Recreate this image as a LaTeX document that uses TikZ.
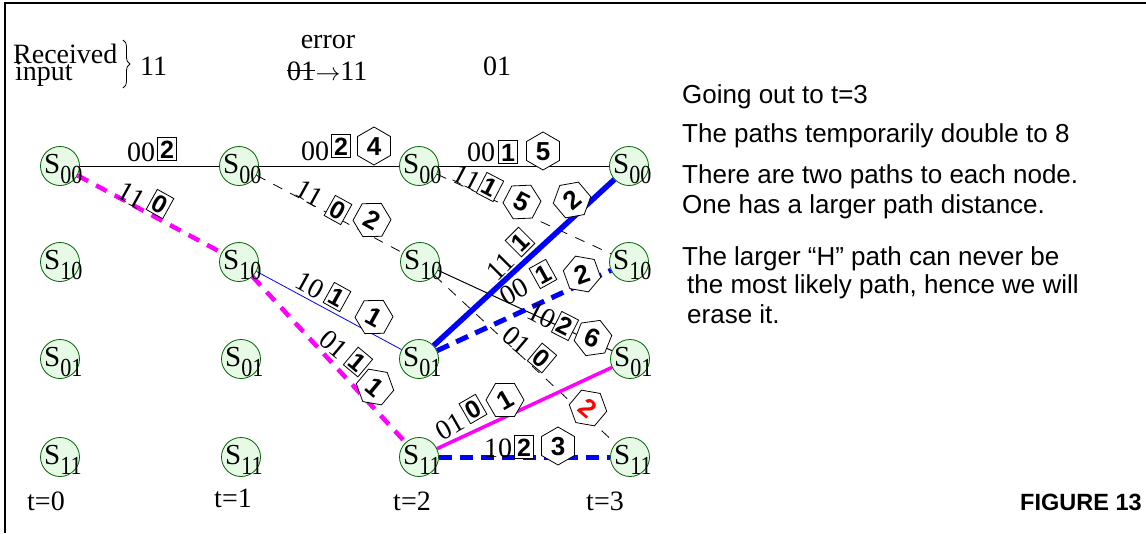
\documentclass[tikz,border=0pt]{standalone}
\usepackage{fontspec}
\setmainfont{Liberation Serif}
\newfontfamily\arial{Liberation Sans}
\newfontfamily\subfont[FakeStretch=0.85]{Liberation Serif}
\usetikzlibrary{shapes.geometric,decorations.pathreplacing}
\definecolor{stfill}{RGB}{230,250,230}
\definecolor{stdraw}{RGB}{0,100,0}
\definecolor{mag}{RGB}{255,0,255}
\definecolor{blu}{RGB}{0,0,255}
\definecolor{rd}{RGB}{255,0,0}
\tikzset{
 st/.style={circle, draw=stdraw, fill=stfill, line width=0.8pt, minimum size=39pt, inner sep=0pt},
 slab/.style={anchor=base west, inner sep=0pt},
 bits/.style={inner sep=0pt, font=\fontsize{28}{28}\selectfont, text height=19pt, text depth=0pt},
 boxd/.style={draw, fill=white, line width=0.8pt, inner sep=2.5pt, font=\arial\bfseries\fontsize{25}{25}\selectfont, text height=18pt, text depth=0pt},
 hexd/.style={regular polygon, regular polygon sides=6, shape border rotate=30, draw, fill=white, line width=0.8pt, minimum size=38pt, inner sep=0pt, font=\arial\bfseries\fontsize{26}{26}\selectfont, text height=18.5pt, text depth=0pt},
 thinline/.style={line width=1pt},
 thindash/.style={line width=0.8pt, dash pattern=on 10pt off 9pt},
 magdash/.style={mag, line width=4.5pt, dash pattern=on 12pt off 9pt},
 magsolid/.style={mag, line width=3.5pt},
 bluethick/.style={blu, line width=5.5pt},
 bluedash/.style={blu, line width=5pt, dash pattern=on 13pt off 8pt},
 bluethin/.style={blu, line width=0.8pt},
 txt/.style={anchor=base west, inner sep=0pt, font=\fontsize{28}{28}\selectfont},
 ctxt/.style={anchor=base, inner sep=0pt, font=\fontsize{28}{28}\selectfont},
 rtxt/.style={anchor=base west, inner sep=0pt, font=\arial\fontsize{26}{26}\selectfont},
}
\newcommand\statenode[4]{%
 \node[st] (#1) at (#2,#3) {};
}
\newcommand\statelabel[2]{%
 \node[slab] (#1t) at ([xshift=-16pt,yshift=-7pt]#1.center) {{\fontsize{29}{29}\selectfont S}\raisebox{-10pt}{\subfont\fontsize{26}{26}\selectfont #2}};
}
\begin{document}
\begin{tikzpicture}[x=1pt,y=-1pt]
\useasboundingbox (0,0) rectangle (1146,533);
% frame
\draw[line width=1.5pt] (5,533) -- (5,3) -- (1146,3);

% header
\node[txt] (rec) at (13,63) {Received};
\node[txt] (inp) at (15,80) {input};
\coordinate (bt) at (123,40);
\coordinate (bb) at (123,88);
\draw[line width=0.8pt, decorate, decoration={brace, amplitude=7pt}] (bt) -- (bb);
\node[txt] (in1) at (140,75) {11};
\node[ctxt] (err) at (328,48) {error};
\node[txt] (e01) at (287,80) {01};
\draw[line width=1pt] ([yshift=10pt]e01.base west) -- ([yshift=10pt]e01.base east);
\node[txt] (e11) at (e01.base east) {$\rightarrow$11};
\node[txt] (in3) at (483,75) {01};

% states
\statenode{a00}{60}{166}{00}
\statenode{a10}{60}{262}{10}
\statenode{a01}{60}{359}{01}
\statenode{a11}{60}{457}{11}
\statenode{b00}{239}{166}{00}
\statenode{b10}{239}{262}{10}
\statenode{b01}{241}{359}{01}
\statenode{b11}{241}{457}{11}
\statenode{c00}{419}{166}{00}
\statenode{c10}{420}{262}{10}
\statenode{c01}{419}{359}{01}
\statenode{c11}{419}{457}{11}
\statenode{d00}{629}{166}{00}
\statenode{d10}{629}{262}{10}
\statenode{d01}{630}{359}{01}
\statenode{d11}{630}{457}{11}

% edges
\draw[thinline] (a00) -- (b00);
\draw[magdash] (a00) -- (b10);
\draw[thinline] (b00) -- (c00);
\draw[thindash] (b00) -- (c10);
\draw[bluethin] (b10) -- (c01);
\draw[magdash] (b10) -- (c11);
\draw[thinline] (c00) -- (d00);
\draw[thindash] (c00) -- (d10);
\draw[thinline] (c10) -- (d01);
\draw[thindash] (c10) -- (d11);
\draw[bluethick] (c01) -- (d00);
\draw[bluedash] (c01) -- (d10);
\draw[magsolid] (c11) -- (d01);
\draw[bluedash] (c11) -- (d11);

% state labels
\statelabel{a00}{00}\statelabel{a10}{10}\statelabel{a01}{01}\statelabel{a11}{11}
\statelabel{b00}{00}\statelabel{b10}{10}\statelabel{b01}{01}\statelabel{b11}{11}
\statelabel{c00}{00}\statelabel{c10}{10}\statelabel{c01}{01}\statelabel{c11}{11}
\statelabel{d00}{00}\statelabel{d10}{10}\statelabel{d01}{01}\statelabel{d11}{11}

% branch labels t0->t1
\node[bits] (t1a) at (141,152) {00};
\node[boxd] (t1b) at (167,149) {2};
\node[bits, rotate=-29] (mAa) at (132,195) {11};
\node[boxd, rotate=-29] (mAb) at (160,204) {0};
% t1->t2
\node[bits] (t2a) at (315,151) {00};
\node[boxd] (t2b) at (341,146) {2};
\node[hexd] (t2c) at (374,146) {4};
\node[bits, rotate=-29] (gBa) at (310,193) {11};
\node[boxd, rotate=-29] (gBb) at (338,210) {0};
\node[hexd, rotate=-29] (gBc) at (372,220) {2};
\node[bits, rotate=-29] (gCa) at (310,285) {10};
\node[boxd, rotate=-29] (gCb) at (337,297) {1};
\node[hexd, rotate=-29] (gCc) at (374,317) {1};
\node[bits, rotate=-40] (gDa) at (334,344) {01};
\node[boxd, rotate=-40] (gDb) at (358,362) {1};
\node[hexd, rotate=-40] (gDc) at (375,387) {1};
% t2->t3
\node[bits] (t3a) at (481,152) {00};
\node[boxd] (t3b) at (508,152) {1};
\node[hexd] (t3c) at (543,151) {5};
\node[bits, rotate=-27.5] (gEa) at (467,177) {11};
\node[boxd, rotate=-27.5] (gEb) at (490,187) {1};
\node[hexd, rotate=-27.5] (gEc) at (522,202) {5};
\node[bits, rotate=45] (gFa) at (500,266) {11};
\node[boxd, rotate=45] (gFb) at (520,242) {1};
\node[hexd, rotate=40] (gFc) at (572,200) {2};
\node[bits, rotate=29] (gGa) at (514,291) {00};
\node[boxd, rotate=29] (gGb) at (543,274) {1};
\node[hexd, rotate=20] (gGc) at (582,274) {2};
\node[bits, rotate=-27] (gHa) at (542,315) {10};
\node[boxd, rotate=-27] (gHb) at (565,326) {2};
\node[hexd, rotate=-22] (gHc) at (593,338) {6};
\node[bits, rotate=-40] (gIa) at (517,340) {01};
\node[boxd, rotate=-40] (gIb) at (542,358) {0};
\node[hexd, rotate=-40, text=rd] (gIc) at (588,408) {2};
\node[bits, rotate=30] (gJa) at (450,426) {01};
\node[boxd, rotate=30] (gJb) at (473,409) {0};
\node[hexd, rotate=30] (gJc) at (505,400) {1};
\node[bits] (gKa) at (498,448) {10};
\node[boxd] (gKb) at (524,447) {2};
\node[hexd] (gKc) at (558,446) {3};

% time labels
\node[ctxt] (tl0) at (46,510) {t=0};
\node[ctxt] (tl1) at (233,507) {t=1};
\node[ctxt] (tl2) at (412,510) {t=2};
\node[ctxt] (tl3) at (605,510) {t=3};

% right text
\node[rtxt] (r1) at (682,103) {Going out to t=3};
\node[rtxt] (r2) at (682,142) {The paths temporarily double to 8};
\node[rtxt] (r3) at (682,183) {There are two paths to each node.};
\node[rtxt] (r4) at (682,213) {One has a larger path distance.};
\node[rtxt] (r5) at (682,265) {The larger “H” path can never be};
\node[rtxt] (r6) at (687,293) {the most likely path, hence we will};
\node[rtxt] (r7) at (687,323) {erase it.};
\node[anchor=base west, inner sep=0pt, font=\arial\bfseries\fontsize{23.5}{23.5}\selectfont] (fig) at (1020,510) {FIGURE 13};
\end{tikzpicture}
\end{document}
